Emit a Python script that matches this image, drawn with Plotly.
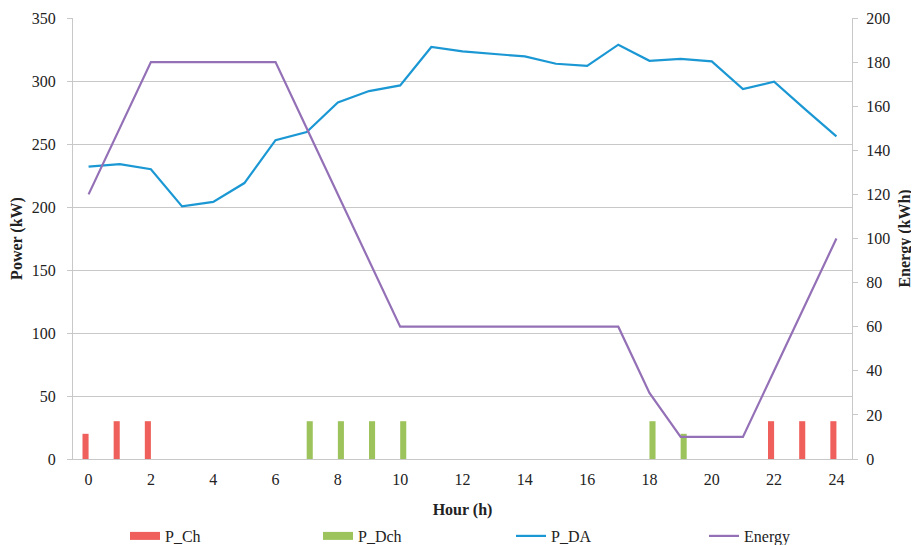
import plotly.graph_objects as go

hours = list(range(25))
p_ch = [20, 30, 30, 0, 0, 0, 0, 0, 0, 0, 0, 0, 0, 0, 0, 0, 0, 0, 0, 0, 0, 0, 30, 30, 30]
p_dch = [0, 0, 0, 0, 0, 0, 0, 30, 30, 30, 30, 0, 0, 0, 0, 0, 0, 0, 30, 20, 0, 0, 0, 0, 0]
p_da = [232, 234, 230, 200.5, 204, 219, 253, 259.5, 283, 292, 296.5, 327, 323.5, 321.7, 319.5,
        313.7, 312, 328.8, 316, 317.5, 315.6, 293.6, 299.5, 277.5, 256]
energy = [120, 150, 180, 180, 180, 180, 180, 150, 120, 90, 60, 60, 60, 60, 60, 60, 60, 60,
          30, 10, 10, 10, 40, 70, 100]
x_ticks = list(range(0, 25, 2))

FONT = "Liberation Serif, Times New Roman, serif"
GRID = "#c8c8c8"
RED, GREEN, BLUE, PURPLE = "#EF5F5B", "#9DC45C", "#1B98D4", "#9470B6"
TF = dict(family=FONT, size=16, color="#222")

fig = go.Figure()
fig.add_trace(go.Bar(x=hours, y=p_ch, name="P_Ch", marker_color=RED, marker_line_width=0,
                     showlegend=False, legendgroup="ch"))
fig.add_trace(go.Bar(x=hours, y=p_dch, name="P_Dch", marker_color=GREEN, marker_line_width=0,
                     showlegend=False, legendgroup="dch"))
# legend-only entries with wide rectangular swatches like the reference
fig.add_trace(go.Scatter(x=[None], y=[None], name="P_Ch", mode="lines", legendgroup="ch",
                         line=dict(color=RED, width=8)))
fig.add_trace(go.Scatter(x=[None], y=[None], name="P_Dch", mode="lines", legendgroup="dch",
                         line=dict(color=GREEN, width=8)))
fig.add_trace(go.Scatter(x=hours, y=p_da, name="P_DA", mode="lines",
                         line=dict(color=BLUE, width=2.2)))
fig.add_trace(go.Scatter(x=hours, y=energy, name="Energy", mode="lines", yaxis="y2",
                         line=dict(color=PURPLE, width=2.2)))

# page body has an 8px margin: the figure is drawn from (8, 8)
fig.update_layout(
    width=911, height=537,
    margin=dict(l=65, r=67, t=10, b=86),
    paper_bgcolor="white", plot_bgcolor="white",
    font=TF,
    barmode="group", bargap=0.61, bargroupgap=0,
    showlegend=True,
    legend=dict(orientation="h", xref="container", yref="container",
                x=117 / 911, y=1 - 528 / 537, xanchor="left", yanchor="middle",
                entrywidth=148, entrywidthmode="pixels", font=TF,
                traceorder="normal"),
    xaxis=dict(range=[-0.5, 24.5], tickvals=x_ticks, ticktext=[str(v) for v in x_ticks],
               showgrid=False, showline=True, linecolor=GRID, linewidth=1, ticks="",
               zeroline=False, automargin=False, tickfont=TF, ticklabelstandoff=6,
               title=dict(text="<b>Hour (h)</b>", font=TF, standoff=22)),
    yaxis=dict(range=[0, 350], dtick=50, showgrid=True, gridcolor=GRID, gridwidth=1,
               showline=True, linecolor=GRID, ticks="outside", ticklen=5, tickcolor=GRID,
               zeroline=False, automargin=False, tickfont=TF, ticklabelstandoff=8,
               title=dict(text="<b>Power (kW)</b>", font=TF, standoff=6)),
    yaxis2=dict(range=[0, 200], dtick=20, overlaying="y", side="right", showgrid=False,
                showline=True, linecolor=GRID, ticks="outside", ticklen=5, tickcolor=GRID,
                zeroline=False, automargin=False, tickfont=TF, ticklabelstandoff=5,
                title=dict(text="<b>Energy (kWh)</b>", font=TF, standoff=9)),
)

fig.write_html("out.html")
